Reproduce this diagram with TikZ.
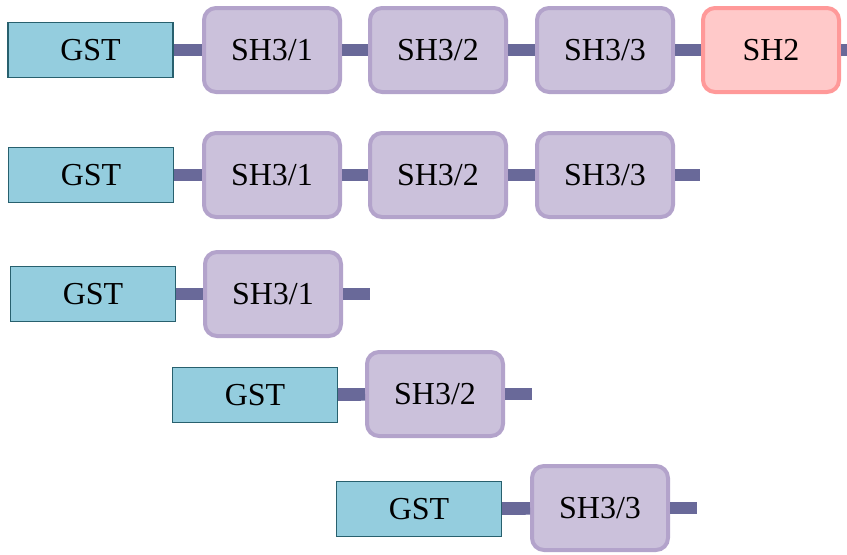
\documentclass[tikz,border=0pt]{standalone}
\usepackage{fontspec}
\setmainfont{Liberation Serif}
\usepackage{tikz}
\usetikzlibrary{positioning}
\definecolor{GstFill}{RGB}{148, 205, 222}
\definecolor{GstEdge}{RGB}{40, 96, 110}
\definecolor{ShFill}{RGB}{203, 193, 219}
\definecolor{ShEdge}{RGB}{179, 163, 203}
\definecolor{TwoFill}{RGB}{255, 201, 201}
\definecolor{TwoEdge}{RGB}{255, 153, 153}
\definecolor{LinkerBlue}{RGB}{105, 105, 153}

\begin{document}
\begin{tikzpicture}[x=0.75pt, y=-0.75pt,
    every node/.style={font=\fontsize{24}{28}\selectfont, inner sep=0pt},
    gst/.style={draw=GstEdge, fill=GstFill, line width=1.1pt, minimum width=123.5pt, minimum height=41.5pt},
    sh3/.style={draw=ShEdge, fill=ShFill, line width=3pt, rounded corners=9pt, minimum width=102pt, minimum height=63pt},
    sh2/.style={sh3, draw=TwoEdge, fill=TwoFill},
    linker/.style={draw=LinkerBlue, line width=9.5pt}]
    \useasboundingbox (0, 0) rectangle (847, 554);

    % Full construct
    \node[gst] (gstA) at (90.5, 50) {GST};
    \node[sh3] (aOne) at (272, 50) {SH3/1};
    \node[sh3] (aTwo) at (438, 50) {SH3/2};
    \node[sh3] (aThree) at (605, 50) {SH3/3};
    \node[sh2] (aSH) at (771, 50) {SH2};
    \coordinate (aEnd) at (847, 50);
    \draw[linker] (gstA) -- (aOne);
    \draw[linker] (aOne) -- (aTwo);
    \draw[linker] (aTwo) -- (aThree);
    \draw[linker] (aThree) -- (aSH);
    \draw[linker] (aSH) -- (aEnd);

    % SH3 domains only
    \node[gst] (gstB) at (91, 175) {GST};
    \node[sh3] (bOne) at (272, 175) {SH3/1};
    \node[sh3] (bTwo) at (438, 175) {SH3/2};
    \node[sh3] (bThree) at (605, 175) {SH3/3};
    \coordinate (bEnd) at (700, 175);
    \draw[linker] (gstB) -- (bOne);
    \draw[linker] (bOne) -- (bTwo);
    \draw[linker] (bTwo) -- (bThree);
    \draw[linker] (bThree) -- (bEnd);

    % Single domains
    \node[gst] (gstC) at (93, 294) {GST};
    \node[sh3] (cOne) at (273, 294) {SH3/1};
    \coordinate (cEnd) at (370, 294);
    \draw[linker] (gstC) -- (cOne);
    \draw[linker] (cOne) -- (cEnd);

    \node[gst] (gstD) at (255, 395) {GST};
    \node[sh3] (dTwo) at (435, 394) {SH3/2};
    \coordinate (dEnd) at (532, 394);
    \draw[linker] (gstD) -- (dTwo);
    \draw[linker] (dTwo) -- (dEnd);

    \node[gst] (gstE) at (419, 509) {GST};
    \node[sh3] (eThree) at (600, 508) {SH3/3};
    \coordinate (eEnd) at (697, 508);
    \draw[linker] (gstE) -- (eThree);
    \draw[linker] (eThree) -- (eEnd);
\end{tikzpicture}
\end{document}
